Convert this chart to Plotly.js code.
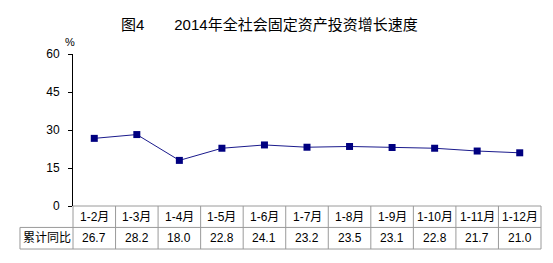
<!DOCTYPE html>
<html><head><meta charset="utf-8">
<script src="https://cdn.plot.ly/plotly-3.0.1.min.js"></script>
<style>body{margin:0;background:#fff}</style></head>
<body><div id="chart" style="width:553px;height:263px"></div>
<script>
const categories = ['1-2月','1-3月','1-4月','1-5月','1-6月','1-7月','1-8月','1-9月','1-10月','1-11月','1-12月'];
const values = [26.7, 28.2, 18.0, 22.8, 24.1, 23.2, 23.5, 23.1, 22.8, 21.7, 21.0];
const valueLabels = ['26.7','28.2','18.0','22.8','24.1','23.2','23.5','23.1','22.8','21.7','21.0'];
const rowLabel = '累计同比';
const yTicks = [0, 15, 30, 45, 60];
const titleText = '图4　　2014年全社会固定资产投资增长速度';

const FONT = '"Liberation Sans", Arial, "Noto Sans CJK SC", sans-serif';
const border = '#9a9a9a';

// table geometry in paper coords (plot area y: 0 at bottom of axis)
const rowMidHead = -0.072, rowMidVal = -0.212;
const lineMid = -0.141, lineBot = -0.283;
const firstColLeft = -0.1133, firstColMid = -0.0566;

const annotations = [];
categories.forEach((c, i) => {
  annotations.push({x: i, xref: 'x', y: rowMidHead, yref: 'paper', text: c, showarrow: false,
    xanchor: 'center', yanchor: 'middle', font: {family: FONT, size: 12, color: '#000'}});
  annotations.push({x: i, xref: 'x', y: rowMidVal, yref: 'paper', text: valueLabels[i], showarrow: false,
    xanchor: 'center', yanchor: 'middle', font: {family: FONT, size: 12, color: '#000'}});
});
annotations.push({x: firstColMid, xref: 'paper', y: rowMidVal, yref: 'paper', text: rowLabel, showarrow: false,
  xanchor: 'center', yanchor: 'middle', font: {family: FONT, size: 12, color: '#000'}});
annotations.push({x: -0.006, xref: 'paper', y: 1.079, yref: 'paper', text: '%', showarrow: false,
  xanchor: 'center', yanchor: 'middle', font: {family: FONT, size: 11, color: '#000'}});

const shapes = [];
const ln = {color: border, width: 1};
shapes.push({type: 'line', xref: 'paper', yref: 'paper', x0: 0, x1: 1, y0: 0, y1: 0, line: ln});
shapes.push({type: 'line', xref: 'paper', yref: 'paper', x0: firstColLeft, x1: 1, y0: lineMid, y1: lineMid, line: ln});
shapes.push({type: 'line', xref: 'paper', yref: 'paper', x0: firstColLeft, x1: 1, y0: lineBot, y1: lineBot, line: ln});
shapes.push({type: 'line', xref: 'paper', yref: 'paper', x0: firstColLeft, x1: firstColLeft, y0: lineMid, y1: lineBot, line: ln});
shapes.push({type: 'line', xref: 'paper', yref: 'paper', x0: 0, x1: 0, y0: 0, y1: lineBot, line: ln});
shapes.push({type: 'line', xref: 'paper', yref: 'paper', x0: 1, x1: 1, y0: 0, y1: lineBot, line: ln});
for (let i = 0; i < categories.length - 1; i++) {
  shapes.push({type: 'line', xref: 'x', yref: 'paper', x0: i + 0.5, x1: i + 0.5, y0: 0, y1: lineBot, line: ln});
}

const trace = {
  x: categories, y: values, type: 'scatter', mode: 'lines+markers',
  line: {color: '#1a1a8c', width: 1},
  marker: {symbol: 'square', size: 7, color: '#000080'},
  cliponaxis: false, hoverinfo: 'skip'
};

const layout = {
  width: 553, height: 263,
  margin: {l: 73, r: 12, t: 54, b: 57},
  paper_bgcolor: '#fff', plot_bgcolor: '#fff',
  showlegend: false,
  title: {text: titleText, x: 0.487, xanchor: 'center', xref: 'container', y: 0.905, yanchor: 'middle',
    yref: 'container', font: {family: FONT, size: 15, color: '#000'}},
  xaxis: {type: 'category', range: [-0.5, categories.length - 0.5], showticklabels: false,
    ticks: '', showgrid: false, zeroline: false, showline: false, fixedrange: true},
  yaxis: {range: [0, 60], tickvals: yTicks, ticktext: yTicks.map(String), ticks: 'outside', ticklen: 4,
    tickcolor: '#000', showline: true, linecolor: '#000', linewidth: 1, showgrid: false, zeroline: false,
    ticklabelstandoff: 6, tickfont: {family: FONT, size: 12, color: '#000'}, fixedrange: true},
  annotations: annotations,
  shapes: shapes
};

Plotly.newPlot('chart', [trace], layout, {displayModeBar: false, staticPlot: true});
</script>
</body></html>
